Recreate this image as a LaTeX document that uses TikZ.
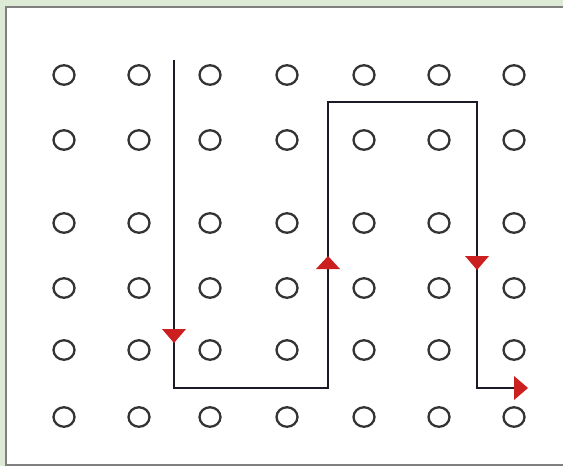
\documentclass[tikz,border=0pt]{standalone}
\usepackage{tikz}
\usepackage{xcolor}
\usetikzlibrary{shapes.geometric}

\definecolor{sfondo}{HTML}{DDEBD6}
\definecolor{bordo}{HTML}{7F7F7F}
\definecolor{freccia}{HTML}{CC1F1F}
\definecolor{tratto}{HTML}{1C1A26}

\begin{document}
\begin{tikzpicture}[x=0.02cm, y=-0.02cm,
    punto/.style={draw=black!80, line width=1.3pt, ellipse, minimum width=0.42cm, minimum height=0.39cm, inner sep=0pt},
    percorso/.style={draw=tratto, line width=1.4pt},
    punta/.style={fill=freccia}]
  \useasboundingbox (0,0) rectangle (563,466);
  \fill[sfondo] (0,0) rectangle (563,466);
  \fill[white] (6,7) rectangle (563,465);
  \draw[bordo, line width=1.6pt] (563,7) -- (6,7) -- (6,465) -- (563,465);
  % griglia di cerchietti
  \foreach \y [count=\r] in {75,140,223,288,350,417} {
    \foreach \x [count=\c] in {64,139,210,287,364,439,514} {
      \node[punto] (p-\r-\c) at (\x,\y) {};
    }
  }
  % percorso
  \coordinate (inizio) at (174,60);
  \coordinate (a) at (174,388);
  \coordinate (b) at (328,388);
  \coordinate (c) at (328,102);
  \coordinate (d) at (477,102);
  \coordinate (e) at (477,388);
  \coordinate (fine) at (516,388);
  \draw[percorso] (inizio) -- (a) -- (b) -- (c) -- (d) -- (e) -- (fine);
  % punte rosse
  \fill[punta] (174,343) -- ++(-12,-14) -- ++(24,0) -- cycle;
  \fill[punta] (328,256) -- ++(-12,13) -- ++(24,0) -- cycle;
  \fill[punta] (477,270) -- ++(-12,-14) -- ++(24,0) -- cycle;
  \fill[punta] (528,388) -- ++(-14,-12) -- ++(0,24) -- cycle;
\end{tikzpicture}
\end{document}
